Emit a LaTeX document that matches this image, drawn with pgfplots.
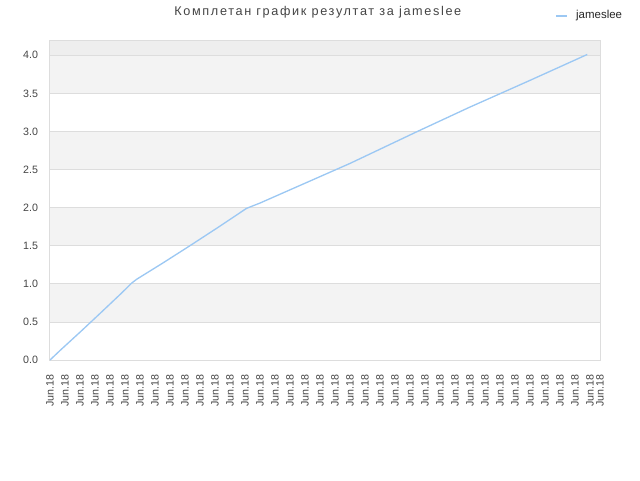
\documentclass[border=0pt]{standalone}
\usepackage{pgfplots}
\pgfplotsset{compat=1.18}
\usepackage{fontspec}
\setmainfont{Liberation Sans}
\newfontfamily\titlefont[LetterSpace=13]{Liberation Sans}
\definecolor{bandgray}{HTML}{F3F3F3}
\definecolor{topgray}{HTML}{EEEEEE}
\definecolor{gridgray}{HTML}{DDDDDD}
\definecolor{linecol}{HTML}{9CC8F3}
\definecolor{txt}{HTML}{444444}
\pgfplotsset{band/.style={on layer=axis background, draw=none, fill=#1, forget plot}}
\begin{document}
\begin{tikzpicture}
\begin{axis}[
    set layers,
    anchor=south west, at={(0pt,0pt)},
    scale only axis, width=412.5pt, height=240pt,
    xmin=0, xmax=36.67, ymin=0, ymax=4.2,
    xtick={0,1,...,36,36.67},
    xticklabel={Jun.18},
    ytick={0,0.5,...,4.0},
    y tick label style={/pgf/number format/fixed, /pgf/number format/fixed zerofill,
        /pgf/number format/precision=1, /pgf/number format/assume math mode=true, xshift=-5.5pt},
    every tick label/.append style={font=\fontsize{8pt}{9pt}\selectfont, text=txt},
    x tick label style={rotate=90, anchor=east},
    xticklabel shift=7.5pt,
    major tick length=0pt,
    ymajorgrids, grid style={gridgray, line width=0.5pt},
    axis line style={gridgray, line width=0.75pt},
    title={Комплетан график резултат за jameslee},
    every axis title/.style={at={(axis description cs:0.487,1.0875)}, anchor=center,
        font=\titlefont\fontsize{9.5pt}{11pt}\selectfont, text=txt},
    legend style={at={(axis description cs:0.918,1.076)}, anchor=west, draw=none, fill=none,
        font=\fontsize{8.6pt}{10pt}\selectfont, text=black!85, inner sep=0pt, row sep=0pt,
        nodes={inner sep=0pt}, /tikz/every odd column/.append style={column sep=6pt}},
    legend cell align=left,
    legend image code/.code={\draw[#1, line width=1.5pt] (0pt,0pt) -- (8.25pt,0pt);},
]
\addplot[band=topgray] coordinates {(0,4.0) (36.67,4.0) (36.67,4.2) (0,4.2)} -- cycle;
\addplot[band=bandgray] coordinates {(0,3.5) (36.67,3.5) (36.67,4.0) (0,4.0)} -- cycle;
\addplot[band=bandgray] coordinates {(0,2.5) (36.67,2.5) (36.67,3.0) (0,3.0)} -- cycle;
\addplot[band=bandgray] coordinates {(0,1.5) (36.67,1.5) (36.67,2.0) (0,2.0)} -- cycle;
\addplot[band=bandgray] coordinates {(0,0.5) (36.67,0.5) (36.67,1.0) (0,1.0)} -- cycle;
\addplot[linecol, line width=1pt] coordinates {
(0,0) (0.67,0.125) (2.0,0.365) (3.33,0.61) (4.78,0.88) (5.45,1.01)
(5.78,1.06) (7.5,1.27) (9.33,1.50) (11.2,1.74) (13.1,1.99)
(14.0,2.06) (17.0,2.32) (20.0,2.58) (24.5,3.00) (28.0,3.32) (32.0,3.67) (35.82,4.01)
};
\addlegendentry{jameslee}
\end{axis}
\pgfresetboundingbox
\useasboundingbox (-37.5pt,-90pt) rectangle (442.5pt,270pt);
\end{tikzpicture}
\end{document}
